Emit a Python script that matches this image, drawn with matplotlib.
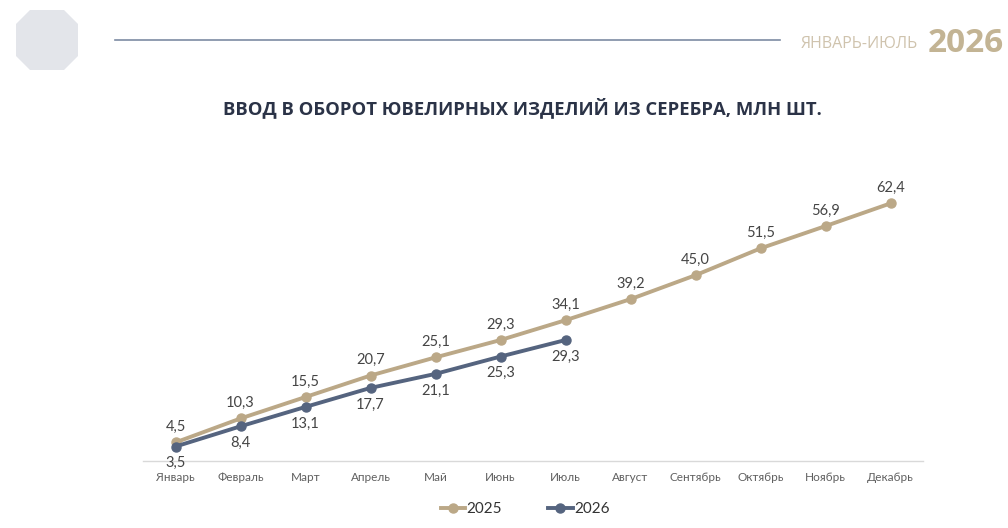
import matplotlib.pyplot as plt
from matplotlib.patches import Polygon
from matplotlib import font_manager
import numpy as np

# ---------- данные ----------
months = ['Январь', 'Февраль', 'Март', 'Апрель', 'Май', 'Июнь',
          'Июль', 'Август', 'Сентябрь', 'Октябрь', 'Ноябрь', 'Декабрь']
vals_2025 = [4.5, 10.3, 15.5, 20.7, 25.1, 29.3, 34.1, 39.2, 45.0, 51.5, 56.9, 62.4]
vals_2026 = [3.5, 8.4, 13.1, 17.7, 21.1, 25.3, 29.3]

c25 = '#BBA887'
c26 = '#55647F'
txt = '#454545'

# Montserrat бывает только тонким (variable) — тогда берём Lato
mont_ok = any(f.name == 'Montserrat' and f.weight in (400, 500, 'normal', 'regular', 'medium')
              and 'wght' not in f.fname for f in font_manager.fontManager.ttflist)
base = ['Montserrat'] if mont_ok else []
plt.rcParams['font.family'] = base + ['Lato', 'DejaVu Sans']

W, H = 1008, 528
fig = plt.figure(figsize=(W / 100, H / 100), dpi=100)

# ---------- шапка ----------
hdr = fig.add_axes([0, 0, 1, 1])
hdr.set_xlim(0, W)
hdr.set_ylim(H, 0)
hdr.axis('off')
oct_pts = [(30, 10), (64, 10), (78, 24), (78, 56), (64, 70), (30, 70), (16, 56), (16, 24)]
hdr.add_patch(Polygon(oct_pts, closed=True, facecolor='#E3E5EA', edgecolor='none'))
hdr.plot([115, 780], [40, 40], color='#7D8BA3', lw=1.2)
hdr.text(918, 44, 'ЯНВАРЬ-ИЮЛЬ', color='#CFC3AD', fontsize=11.5, ha='right', va='center',
         family=['Open Sans', 'DejaVu Sans'])
hdr.text(1004, 43, '2026', color='#C3B494', fontsize=24, ha='right', va='center',
         fontweight='bold', family=['Open Sans', 'DejaVu Sans'])
hdr.text(522, 108, 'ВВОД В ОБОРОТ ЮВЕЛИРНЫХ ИЗДЕЛИЙ ИЗ СЕРЕБРА, МЛН ШТ.', color='#2B3347',
         fontsize=13.3, ha='center', va='center', fontweight='bold',
         family=['Open Sans', 'DejaVu Sans'])

# ---------- график ----------
ax = fig.add_axes([143 / W, (H - 461) / H, (923 - 143) / W, (461 - 172) / H])
x25 = np.arange(len(vals_2025))
x26 = np.arange(len(vals_2026))
ax.plot(x25, vals_2025, color=c25, lw=2.8, marker='o', ms=6.5, label='2025', zorder=3)
ax.plot(x26, vals_2026, color=c26, lw=2.8, marker='o', ms=6.5, label='2026', zorder=4)

for xi, v in zip(x25, vals_2025):
    ax.annotate(f'{v:.1f}'.replace('.', ','), (xi, v), xytext=(0, 6), textcoords='offset points',
                ha='center', va='bottom', fontsize=10.5, color=txt)
for xi, v in zip(x26, vals_2026):
    ax.annotate(f'{v:.1f}'.replace('.', ','), (xi, v), xytext=(0, -7), textcoords='offset points',
                ha='center', va='top', fontsize=10.5, color=txt)

ax.set_xlim(-0.5, len(months) - 0.5)
ax.set_ylim(0, 70)
ax.set_xticks(x25)
ax.set_xticklabels(months, fontsize=8.5, color='#606060')
ax.tick_params(axis='x', length=0, pad=8)
ax.set_yticks([])
for s in ['top', 'right', 'left']:
    ax.spines[s].set_visible(False)
ax.spines['bottom'].set_color('#D9D9D9')
ax.spines['bottom'].set_linewidth(1)

leg = ax.legend(loc='upper center', bbox_to_anchor=(0.49, -0.095), ncol=2, frameon=False,
                fontsize=11, handlelength=1.6, columnspacing=3.0, handletextpad=0.1,
                labelcolor='#333333')

fig.savefig('out.png', dpi=100)
